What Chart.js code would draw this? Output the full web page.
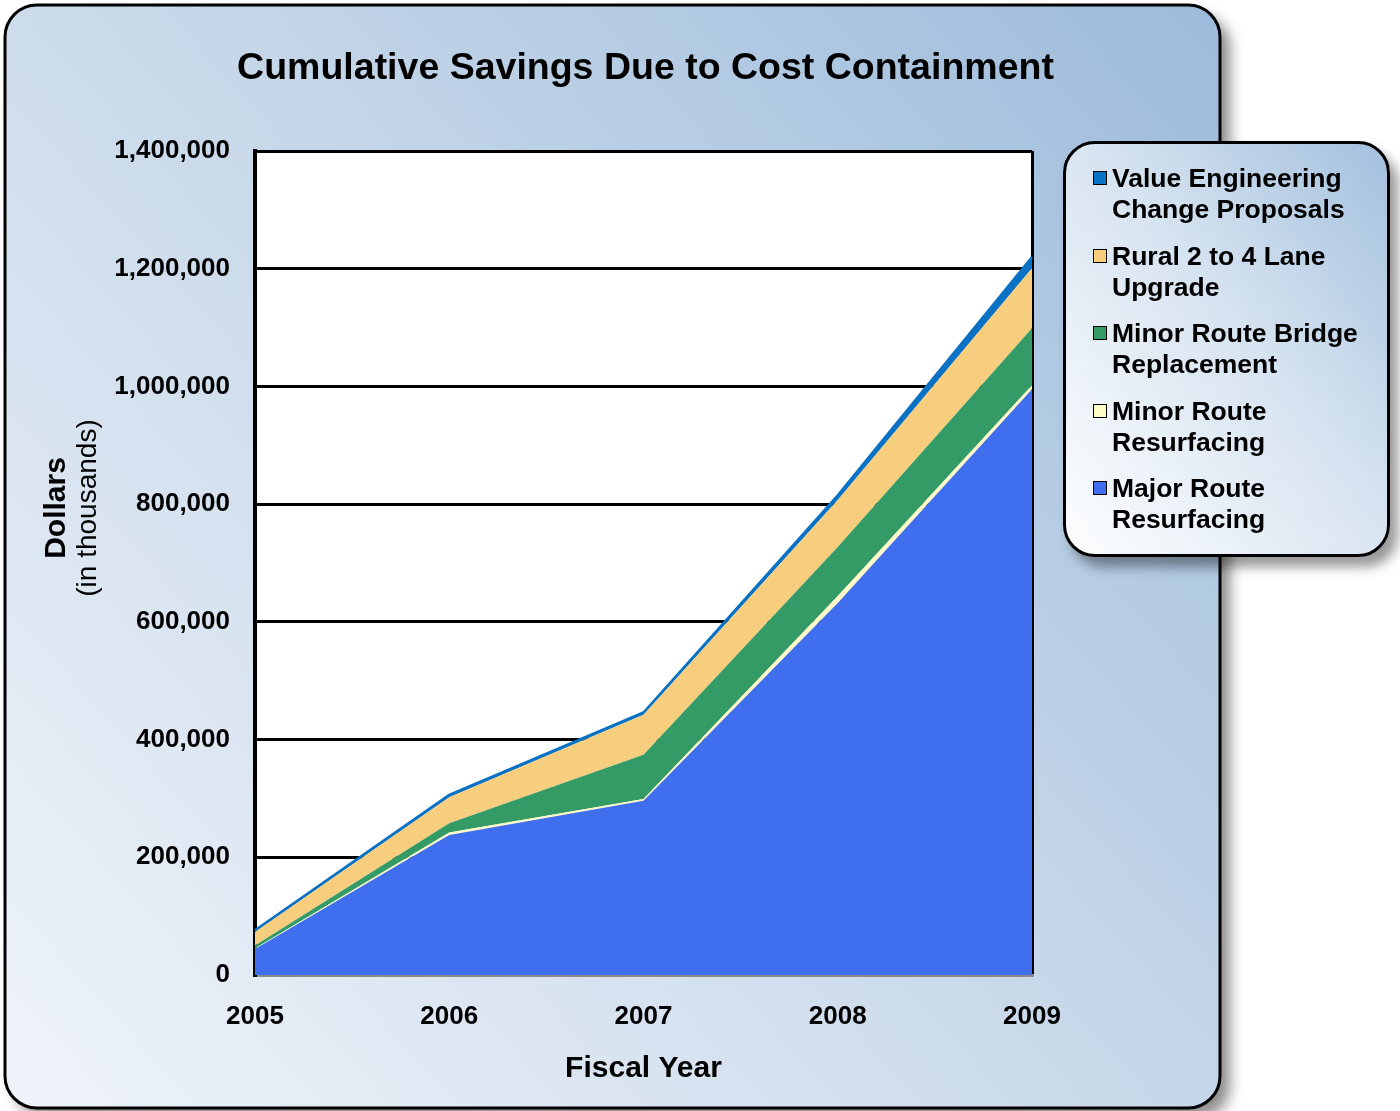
<!DOCTYPE html>
<html>
<head>
<meta charset="utf-8">
<script src="https://cdn.jsdelivr.net/npm/chart.js@4.4.1/dist/chart.umd.min.js"></script>
<style>
body { margin: 0; background: #fff; }
#wrap { position: relative; width: 1400px; height: 1111px; }
#legendBox {
    position: absolute; left: 1063px; top: 141px; width: 327px; height: 416px;
    box-sizing: border-box; border: 3px solid #000; border-radius: 32px;
    background: linear-gradient(to top right, #fdfeff 0%, #d6e3f0 55%, #a3c0de 100%);
    box-shadow: 8px 10px 12px rgba(0,0,0,0.4);
    padding: 19px 0 0 27px;
    font: bold 26.5px/31px 'Liberation Sans', Arial, sans-serif; color: #000;
}
.item { display: flex; margin-bottom: 15.5px; }
.mark { width: 12px; height: 12px; border: 1.5px solid #000; margin: 8px 5px 0 0; flex: none; }
</style>
</head>
<body>
<div id="wrap">
    <canvas id="savingsChart" width="1400" height="1111"></canvas>
    <div id="legendBox"></div>
</div>
<script>
var years = ['2005', '2006', '2007', '2008', '2009']
var majorRoute = [44000, 238000, 296000, 632000, 995000]
var minorRoute = [1000, 4000, 3000, 12000, 7000]
var bridge = [5000, 16000, 75000, 83000, 97000]
var rural = [23000, 44000, 68000, 80000, 102000]
var valueEng = [3000, 4000, 4000, 8000, 19000]
var seriesNames = [
    ['Major Route', 'Resurfacing'],
    ['Minor Route', 'Resurfacing'],
    ['Minor Route Bridge', 'Replacement'],
    ['Rural 2 to 4 Lane', 'Upgrade'],
    ['Value Engineering', 'Change Proposals']
]
var seriesColors = ['#3f6eee', '#fffbc6', '#349a66', '#f6ce7e', '#0a72c4']
var chartTitle = 'Cumulative Savings Due to Cost Containment'

Chart.defaults.font.family = "'Liberation Sans', Arial, sans-serif"
Chart.defaults.color = '#000'

function $id(id) { return document.getElementById(id) }

var panelPlugin = {
    id: 'panel',
    beforeDraw: function (chart) {
        var ctx = chart.ctx
        ctx.save()
        ctx.beginPath()
        ctx.roundRect(5, 5, 1215, 1103, 32)
        ctx.shadowColor = 'rgba(0,0,0,0.45)'
        ctx.shadowBlur = 14
        ctx.shadowOffsetX = 10
        ctx.shadowOffsetY = 10
        var g = ctx.createLinearGradient(5, 1108, 1220, 5)
        g.addColorStop(0, '#f0f4fa')
        g.addColorStop(0.5, '#c9d9ea')
        g.addColorStop(1, '#9cbbdb')
        ctx.fillStyle = g
        ctx.fill()
        ctx.shadowColor = 'transparent'
        ctx.lineWidth = 3
        ctx.strokeStyle = '#000'
        ctx.stroke()
        // white plot background
        var a = chart.chartArea
        ctx.fillStyle = '#fff'
        ctx.fillRect(a.left, a.top, a.right - a.left, a.bottom - a.top)
        ctx.restore()
    },
    afterDraw: function (chart) {
        var ctx = chart.ctx
        var a = chart.chartArea
        var mid = (a.left + a.right) / 2
        ctx.save()
        ctx.fillStyle = '#000'
        ctx.textAlign = 'center'
        ctx.textBaseline = 'middle'
        ctx.font = "bold 37.5px 'Liberation Sans', Arial, sans-serif"
        ctx.fillText(chartTitle, mid + 2, 69)
        ctx.font = "bold 30px 'Liberation Sans', Arial, sans-serif"
        ctx.fillText('Fiscal Year', mid, 1069)
        ctx.translate(57, 508)
        ctx.rotate(-Math.PI / 2)
        ctx.fillText('Dollars', 0, 0)
        ctx.font = "28px 'Liberation Sans', Arial, sans-serif"
        ctx.fillText('(in thousands)', 0, 31)
        ctx.restore()
    }
}

var dataLists = [majorRoute, minorRoute, bridge, rural, valueEng]
var datasets = dataLists.map(function (vals, i) {
    return {
        label: seriesNames[i].join(' '),
        data: vals,
        backgroundColor: seriesColors[i],
        borderColor: seriesColors[i],
        borderWidth: i === 4 ? 2.5 : 0,
        fill: i === 0 ? 'origin' : '-1',
        pointRadius: 0,
        tension: 0
    }
})

var chartCtx = new Chart($id('savingsChart'), {
    type: 'line',
    data: { labels: years, datasets: datasets },
    options: {
        responsive: false,
        animation: false,
        events: [],
        layout: { padding: { left: 0, right: 368, top: 151, bottom: 0 } },
        scales: {
            x: {
                offset: false,
                afterFit: function (s) { s.height = 136 },
                grid: {
                    drawTicks: false,
                    lineWidth: 3,
                    color: function (c) { return c.index === years.length - 1 ? '#000' : 'rgba(0,0,0,0)' }
                },
                border: { display: true, color: '#8a8a8a', width: 3 },
                ticks: { font: { size: 26, weight: 'bold' }, padding: 26, maxRotation: 0 }
            },
            y: {
                stacked: true,
                min: 0,
                max: 1400000,
                afterFit: function (s) { s.width = 255 },
                grid: {
                    drawTicks: false,
                    lineWidth: 3,
                    color: function (c) { return c.tick && c.tick.value === 0 ? 'rgba(0,0,0,0)' : '#000' }
                },
                border: { display: true, color: '#000', width: 4 },
                ticks: { stepSize: 200000, font: { size: 26, weight: 'bold' }, padding: 25 }
            }
        },
        plugins: {
            legend: { display: false },
            tooltip: { enabled: false },
            title: { display: false }
        }
    },
    plugins: [panelPlugin]
})

// legend, top series first
var legendHtml = ''
for (var i = seriesNames.length - 1; i >= 0; i--) {
    legendHtml += '<div class="item"><div class="mark" style="background:' + seriesColors[i] + '"></div><div>' +
        seriesNames[i][0] + '<br>' + seriesNames[i][1] + '</div></div>'
}
$id('legendBox').innerHTML = legendHtml
</script>
</body>
</html>
